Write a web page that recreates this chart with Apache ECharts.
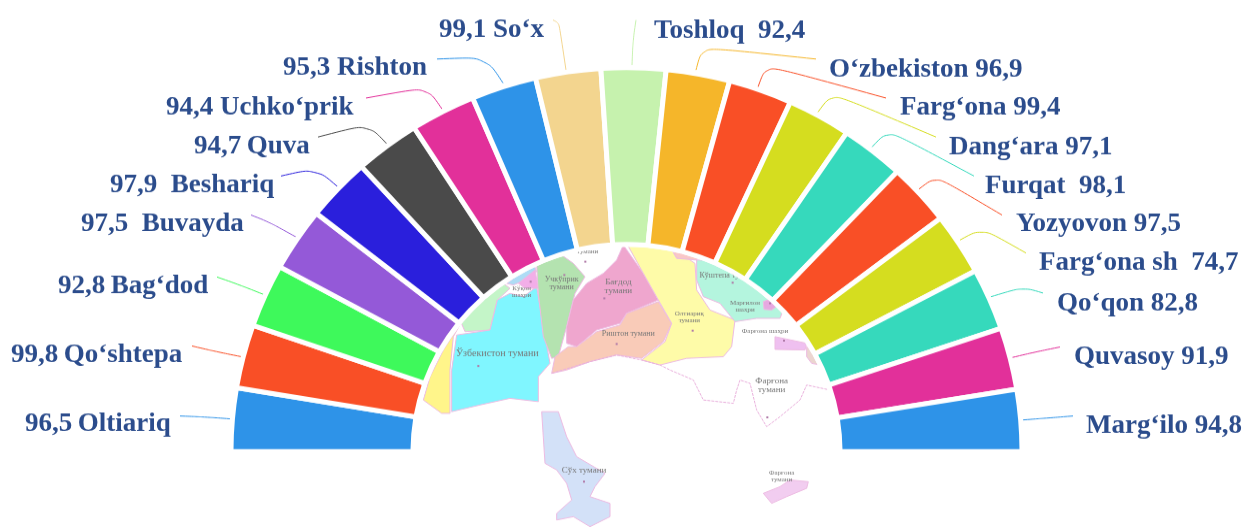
<!DOCTYPE html>
<html lang="en">
  <head>
    <meta charset="UTF-8" />
    <title>Farg'ona</title>
    <script src="https://cdn.jsdelivr.net/npm/echarts@6/dist/echarts.min.js"></script>
    <style>
      html, body { margin: 0; padding: 0; background: #fff; overflow: hidden; height: 527px; }
      /* reference half ring is slightly flattened, pie can only do circles */
      #chart { width: 1246px; height: 543px; transform: scaleY(0.9705); transform-origin: 0 0; filter: blur(0.5px); }
    </style>
  </head>
  <body>
    <div id="chart"></div>
    <script>
      const districts = ['Oltiariq', 'Qo‘shtepa', 'Bag‘dod', 'Buvayda', 'Beshariq', 'Quva', 'Uchko‘prik', 'Rishton', 'So‘x', 'Toshloq', 'O‘zbekiston', 'Farg‘ona', 'Dang‘ara', 'Furqat', 'Yozyovon', 'Farg‘ona sh', 'Qo‘qon', 'Quvasoy', 'Marg‘ilo']
      const rates = ['96,5', '99,8', '92,8', '97,5', '97,9', '94,7', '94,4', '95,3', '99,1', '92,4', '96,9', '99,4', '97,1', '98,1', '97,5', '74,7', '82,8', '91,9', '94,8']
      // gap between name and rate as typed in the reference
      const gaps = ['\u2009', '\u2009', '\u2009', '  ', '  ', '\u2009', ' ', ' ', ' ', '  ', ' ', ' ', ' ', '  ', ' ', '  ', ' ', ' ', ' ']
      // slices are about equal whatever the rate, the left half is a touch wider
      const sliceShares = [1.012, 1.012, 1.012, 1.012, 1.012, 1.012, 1.012, 1.012, 1.012, 1, 0.988, 0.988, 0.988, 0.988, 0.988, 0.988, 0.988, 0.988, 0.988]
      const sliceColors = ['#2E93E8', '#F94F26', '#3EF95B', '#9459D8', '#2A1FDC', '#4A4A4A', '#E2309A', '#2E93E8', '#F3D58F', '#C6F2AE', '#F5B62A', '#F94F26', '#D5DD1F', '#36D9BC', '#F94F26', '#D5DD1F', '#36D9BC', '#E2309A', '#2E93E8']

      const K = 543 / 527 // picture y -> chart y
      const up = ([x, y]) => [x, y * K]

      // label left edge and middle, in picture px
      const labelSpots = [[25, 424], [11, 355], [58, 286], [81, 224], [110, 185], [194, 147], [166, 108], [283, 68], [439, 30], [654, 31], [829, 70], [900, 108], [949, 148], [985, 186], [1016, 224], [1039, 263], [1057, 304], [1074, 357], [1086, 426]]
      const leaders = [
        [[232, 419], [206, 417], [180, 416]],
        [[243, 357], [218, 352], [192, 346]],
        [[265, 295], [240, 285], [217, 277]],
        [[296, 237], [269, 222], [251, 215]],
        [[338, 187], [316, 168], [281, 176]],
        [[387, 144], [368, 124], [318, 137]],
        [[442, 109], [427, 87], [366, 98]],
        [[503, 83], [486, 57], [437, 59]],
        [[566, 70], [559, 23], [553, 20]],
        [[632, 65], [633, 40], [636, 20]],
        [[696, 70], [702, 47], [816, 59]],
        [[758, 87], [766, 65], [886, 98]],
        [[818, 112], [832, 93], [936, 137]],
        [[872, 147], [888, 130], [974, 176]],
        [[919, 189], [936, 176], [1002, 215]],
        [[960, 240], [982, 228], [1026, 253]],
        [[990, 297], [1023, 287], [1043, 293]],
        [[1010, 358], [1035, 352], [1060, 347]],
        [[1022, 420], [1048, 418], [1073, 416]]
      ]

      const fromCrop = ([x, y]) => [410 + x / 3, (230 + y / 3) * K]
      const mapAreas = [
        ['#FFF58A', [[155, 275], [130, 320], [120, 420], [120, 550], [95, 550], [40, 510], [60, 440], [100, 360]]],
        ['#C4F5C8', [[165, 305], [240, 300], [262, 210], [300, 175], [280, 160], [230, 190], [190, 225], [150, 270]]],
        ['#80F6FF', [[140, 315], [240, 300], [262, 210], [300, 190], [340, 200], [380, 170], [400, 290], [420, 400], [385, 440], [385, 515], [300, 505], [210, 525], [125, 545], [125, 420]]],
        ['#AEDCF5', [[290, 160], [370, 100], [380, 125], [335, 155], [310, 165]]],
        ['#F2AEE8', [[325, 160], [375, 120], [385, 175], [345, 175]]],
        ['#B4E3B0', [[380, 105], [455, 75], [490, 100], [525, 140], [495, 190], [470, 290], [445, 380], [425, 385], [400, 320], [385, 190]]],
        ['#EFA6CE', [[640, 45], [700, 130], [745, 210], [650, 250], [630, 280], [560, 300], [500, 350], [470, 340], [470, 290], [490, 210], [530, 160], [580, 130], [620, 90]]],
        ['#F9CBB8', [[745, 215], [785, 280], [760, 335], [695, 385], [620, 375], [540, 395], [470, 420], [425, 430], [435, 380], [475, 350], [500, 350], [560, 305], [630, 285], [650, 250]]],
        ['#FEFBA8', [[650, 40], [780, 50], [855, 100], [860, 180], [900, 240], [975, 270], [965, 350], [940, 380], [830, 385], [750, 405], [695, 390], [765, 335], [785, 280], [745, 210], [700, 130]]],
        ['#B4F5DE', [[860, 90], [900, 90], [990, 135], [1060, 170], [1120, 240], [1110, 265], [1040, 265], [975, 275], [930, 220], [880, 200], [860, 150]]],
        ['#E6A8E0', [[1060, 215], [1085, 205], [1105, 225], [1085, 240], [1062, 238]]],
        ['#F9C7C7', [[780, 50], [870, 75], [860, 90], [800, 85]]],
        ['#EFC0F0', [[1095, 320], [1190, 340], [1185, 360], [1095, 358]]],
        ['#EBD5D0', [[1190, 350], [1215, 370], [1230, 405], [1205, 400], [1190, 380]]],
        ['#D3E1F8', [[395, 545], [445, 545], [470, 620], [500, 680], [585, 730], [555, 770], [540, 800], [600, 820], [600, 860], [540, 890], [490, 860], [440, 870], [440, 850], [485, 810], [470, 760], [440, 720], [405, 700]]],
        ['#F2CDF0', [[1060, 790], [1110, 770], [1140, 750], [1195, 755], [1190, 775], [1130, 800], [1085, 820]]]
      ]
      const mapBorder = [[425, 430], [540, 395], [620, 375], [695, 390], [750, 405], [780, 420], [850, 450], [880, 510], [970, 520], [980, 480], [990, 450], [1020, 460], [1040, 540], [1070, 590], [1110, 560], [1170, 510], [1190, 465], [1260, 480]]
      const mapTexts = [
        ['Ўзбекистон тумани', 262, 372, 10],
        ['Учкўприк\nтумани', 455, 160, 8],
        ['Бағдод\nтумани', 625, 170, 9],
        ['Риштон тумани', 655, 310, 8],
        ['Кўқон\nшаҳри', 335, 185, 7],
        ['тумани', 533, 65, 7],
        ['Олтиариқ\nтумани', 838, 260, 7],
        ['Кўштепа ту.', 930, 138, 8],
        ['Марғилон\nшаҳри', 1005, 228, 7],
        ['Фарғона шаҳри', 1065, 302, 7],
        ['Фарғона\nтумани', 1085, 465, 9],
        ['Сўх тумани', 522, 720, 9],
        ['Фарғона\nтумани', 1115, 740, 7]
      ]
      const mapDots = [[205, 408], [362, 155], [463, 135], [526, 95], [583, 205], [620, 342], [848, 302], [968, 158], [1080, 220], [1122, 332], [1072, 562], [522, 755]]

      const cx = 626.5
      const cy = 451.5 * K

      const graphic = [
        ...mapAreas.map(([fill, pts]) => ({
          type: 'polygon',
          shape: { points: pts.map(fromCrop) },
          style: { fill: fill, stroke: '#EDBBE2', lineWidth: 1 }
        })),
        {
          type: 'polyline',
          shape: { points: mapBorder.map(fromCrop) },
          style: { fill: 'none', stroke: '#E9B0DC', lineWidth: 1, lineDash: [3, 1] }
        },
        ...mapDots.map((p) => {
          const [x, y] = fromCrop(p)
          return { type: 'rect', shape: { x: x - 1, y: y - 1, width: 2, height: 2 }, style: { fill: '#B07AA8' } }
        }),
        // keeps the white band between map and slices
        { type: 'ring', shape: { cx: cx, cy: cy, r: 216, r0: 211 }, style: { fill: '#fff' } },
        ...mapTexts.map(([text, x, y, size]) => {
          const p = fromCrop([x, y])
          return {
            type: 'text',
            x: p[0],
            y: p[1],
            style: {
              text: text,
              font: size + 'px "Liberation Serif"',
              fill: '#777',
              align: 'center',
              verticalAlign: 'middle',
              lineHeight: size
            }
          }
        })
      ]

      const chart = echarts.init(document.getElementById('chart'))
      chart.setOption({
        animation: false,
        graphic: graphic,
        series: [
          {
            type: 'pie',
            center: [cx, cy],
            radius: [213.5, 395.5],
            startAngle: 180,
            endAngle: 0,
            avoidLabelOverlap: false,
            itemStyle: { borderColor: '#fff', borderWidth: 5, borderRadius: 2 },
            label: {
              show: true,
              position: 'outside',
              fontFamily: 'Liberation Serif',
              fontWeight: 'bold',
              fontSize: 27,
              color: '#2B4C8C',
              // names lead on the right half, rates on the left
              formatter: (p) => {
                const i = p.dataIndex
                return i < 9 ? rates[i] + gaps[i] + districts[i] : districts[i] + gaps[i] + rates[i]
              }
            },
            labelLine: { show: true, smooth: 0.35, lineStyle: { width: 1 } },
            labelLayout: (p) => {
              const [x, y] = up(labelSpots[p.dataIndex])
              return { x: x, y: y, align: 'left', verticalAlign: 'middle', labelLinePoints: leaders[p.dataIndex].map(up) }
            },
            emphasis: { disabled: true },
            data: districts.map((name, i) => ({ name: name, value: sliceShares[i], itemStyle: { color: sliceColors[i] } }))
          }
        ]
      })
    </script>
  </body>
</html>
